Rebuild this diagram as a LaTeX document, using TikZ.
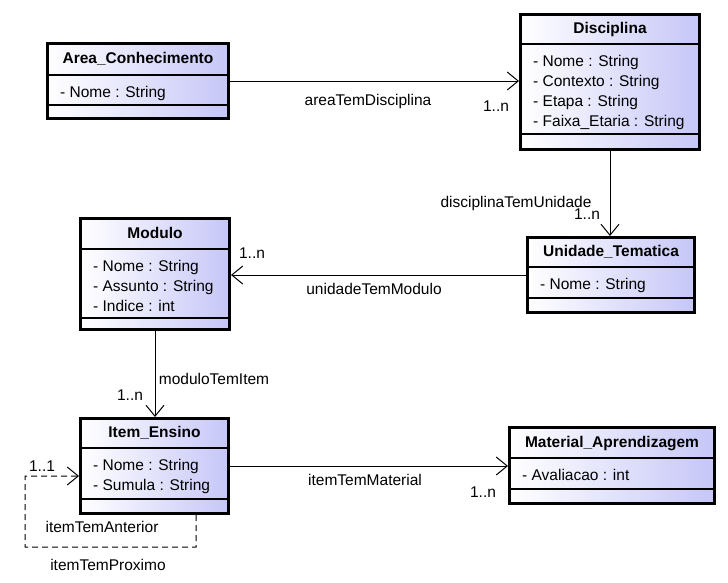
\documentclass[tikz,border=0pt]{standalone}
\usepackage{fontspec}
\setmainfont{Liberation Sans}
\usetikzlibrary{arrows.meta,calc}
\definecolor{lav}{RGB}{198,198,248}
\tikzset{
 classbox/.style={draw=black, line width=2.8pt, left color=white, right color=lav, rectangle, inner sep=0pt, anchor=north west},
 sepline/.style={draw=black, line width=1.2pt},
 titletext/.style={font=\fontsize{15.5}{18}\selectfont\bfseries, anchor=base, inner sep=0pt},
 attrtext/.style={font=\fontsize{15.5}{18}\selectfont, anchor=base west, inner sep=0pt},
 lbl/.style={font=\fontsize{15.5}{18}\selectfont, anchor=base, inner sep=0pt},
 assoc/.style={draw=black, line width=1pt, -{Straight Barb[length=11pt,width=18pt,line width=1pt]}},
 selfassoc/.style={assoc, dash pattern=on 6pt off 4pt},
}
% #1 name, #2 x1, #3 y1, #4 x2, #5 y2, #6 sep1, #7 sep2, #8 title, #9 attributes
\newcommand{\umlclass}[9]{%
 \node[classbox, minimum width={#4pt-#2pt-2.8pt}, minimum height={#5pt-#3pt-2.8pt}] (#1) at (#2,#3) {};
 \draw[sepline] ({#2+1.4},#6) -- ({#4-1.4},#6);
 \draw[sepline] ({#2+1.4},#7) -- ({#4-1.4},#7);
 \node[titletext] (#1-title) at ({(#2+#4)/2},{(#3+#6)/2+5.4}) {#8};
 \foreach \a [count=\i] in {#9} {
   \node[attrtext] (#1-attr\i) at ({#2+14},{#6+22.5+20*(\i-1)}) {\a};
 }
}
\begin{document}
\begin{tikzpicture}[x=1pt,y=-1pt]
\useasboundingbox (0,0) rectangle (728,582);
\fill[white] (0,0) rectangle (728,582);

\umlclass{area}{46}{42}{230}{120}{75}{105}{Area\_Conhecimento}{- Nome : String}
\umlclass{disc}{519}{13}{701}{151}{44}{134}{Disciplina}{- Nome : String,- Contexto : String,- Etapa : String,- Faixa\_Etaria : String}
\umlclass{unid}{526}{236}{696}{314}{267}{298}{Unidade\_Tematica}{- Nome : String}
\umlclass{modulo}{79}{217}{231}{331}{249}{318}{Modulo}{- Nome : String,- Assunto : String,- Indice : int}
\umlclass{item}{79}{417}{230}{515}{448}{499}{Item\_Ensino}{- Nome : String,- Sumula : String}
\umlclass{mat}{508}{426}{716}{505}{458}{489}{Material\_Aprendizagem}{- Avaliacao : int}

% associations
\draw[assoc] (area.east) -- (area.east -| disc.west);
\draw[assoc] (disc.south) -- (disc.south |- unid.north);
\draw[assoc] (unid.west) -- (unid.west -| modulo.east);
\draw[assoc] (modulo.south) -- (modulo.south |- item.north);
\draw[assoc] (item.east) -- (item.east -| mat.west);
\coordinate (loopstart) at ($(item.south west)+(117,0)$);
\draw[selfassoc] (loopstart) -- ++(0,32) -- ++(-171,0) -- ++(0,-71) -- ($(item.west)+(0,10)$);

% labels
\node[lbl] (l1) at (368,105) {areaTemDisciplina};
\node[lbl] (m1) at (496,111) {1..n};
\node[lbl] (l2) at (516,207) {disciplinaTemUnidade};
\node[lbl] (m2) at (587,219) {1..n};
\node[lbl] (l3) at (374,294) {unidadeTemModulo};
\node[lbl] (m3) at (252,258) {1..n};
\node[lbl] (l4) at (214,384) {moduloTemItem};
\node[lbl] (m4) at (130,400) {1..n};
\node[lbl] (l5) at (365,485) {itemTemMaterial};
\node[lbl] (m5) at (483,497) {1..n};
\node[lbl] (m6) at (42,471) {1..1};
\node[lbl] (l6) at (102,532) {itemTemAnterior};
\node[lbl] (l7) at (108,570) {itemTemProximo};
\end{tikzpicture}
\end{document}
